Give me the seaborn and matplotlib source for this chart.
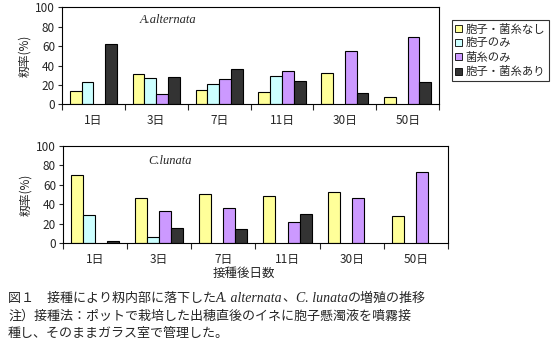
import numpy as np
import pandas as pd
import matplotlib
matplotlib.use("Agg")
import matplotlib.pyplot as plt
from matplotlib.patches import Patch
from matplotlib.ticker import FixedLocator
import seaborn as sns

sns.set_style("white")
plt.rcParams["font.family"] = ["Noto Sans CJK JP", "DejaVu Sans"]

nan = np.nan
days = ["1日", "3日", "7日", "11日", "30日", "50日"]
series = ["胞子・菌糸なし", "胞子のみ", "菌糸のみ", "胞子・菌糸あり"]
colors = ["#FFFF99", "#CCFFFF", "#CC99FF", "#333333"]

# A. alternata
alt_none = [14, 31, 15, 13, 32, 8]
alt_spore = [23, 27, 21, 29, nan, nan]
alt_hypha = [nan, 11, 26, 34, 55, 69]
alt_both = [62, 28, 36, 24, 12, 23]

# C. lunata
lun_none = [70, 46, 50, 48, 53, 28]
lun_spore = [29, 6, nan, nan, nan, nan]
lun_hypha = [nan, 33, 36, 22, 46, 73]
lun_both = [2, 16, 15, 30, nan, nan]

yticks = [0, 20, 40, 60, 80, 100]
ylabel = "籾率(%)"
xlabel = "接種後日数"


def long_table(cols):
    rows = []
    for name, vals in zip(series, cols):
        for d, v in zip(days, vals):
            if not np.isnan(v):
                rows.append({"day": d, "status": name, "rate": v})
    return pd.DataFrame(rows)


fig = plt.figure(figsize=(5.57, 3.42), dpi=100)
ax1 = fig.add_axes([0.1113, 0.695, 0.677, 0.2836])
ax2 = fig.add_axes([0.1131, 0.2886, 0.691, 0.2854])

panels = [
    (ax1, [alt_none, alt_spore, alt_hypha, alt_both], "A.alternata", (0.28, 0.87)),
    (ax2, [lun_none, lun_spore, lun_hypha, lun_both], "C.lunata", (0.278, 0.843)),
]

for ax, cols, name, pos in panels:
    df = long_table(cols)
    sns.barplot(data=df, x="day", y="rate", hue="status", order=days,
                hue_order=series, palette=colors, width=0.75,
                edgecolor="black", linewidth=0.8, errorbar=None,
                legend=False, saturation=1, ax=ax)
    ax.set_xlim(-0.5, len(days) - 0.5)
    ax.set_ylim(0, 100)
    ax.set_yticks(yticks)
    ax.tick_params(axis="y", labelsize=8.5, length=3, width=0.8,
                   direction="out", left=True, pad=2)
    ax.tick_params(axis="x", which="major", length=0, labelsize=8.5, pad=7)
    ax.xaxis.set_minor_locator(FixedLocator(np.arange(-0.5, len(days), 1.0)))
    ax.tick_params(axis="x", which="minor", length=4, width=0.8,
                   direction="out", bottom=True)
    for s in ax.spines.values():
        s.set_visible(True)
        s.set_color("black")
        s.set_linewidth(0.8)
    ax.set_xlabel("")
    ax.set_ylabel(ylabel, fontsize=8.5, labelpad=3)
    ax.text(pos[0], pos[1], name, transform=ax.transAxes, ha="center",
            va="center", fontsize=9, style="italic",
            family="Liberation Serif")

ax2.text(0.47, -0.305, xlabel, transform=ax2.transAxes, ha="center",
         va="center", fontsize=9)

handles = [Patch(facecolor=c, edgecolor="black", linewidth=0.6) for c in colors]
leg = fig.legend(handles, series, loc="upper left",
                 bbox_to_anchor=(452 / 557, 1 - 20 / 342), fontsize=8.2,
                 frameon=True, fancybox=False, edgecolor="black",
                 handlelength=0.6, handleheight=0.6, handletextpad=0.3,
                 borderpad=0.3, labelspacing=0.3, borderaxespad=0)
leg.get_frame().set_linewidth(0.8)

# Caption lines, mixing CJK text with italic species names
cap_size = 9.4
lines = [
    (1 - 298 / 342, [("図１　接種により籾内部に落下した", None),
                     ("A. alternata", "it"), ("、", None),
                     ("C. lunata", "it"), ("の増殖の推移", None)]),
    (1 - 316 / 342, [("注）接種法：ポットで栽培した出穂直後のイネに胞子懸濁液を噴霧接", None)]),
    (1 - 333 / 342, [("種し、そのままガラス室で管理した。", None)]),
]

fig.canvas.draw()
renderer = fig.canvas.get_renderer()
for y, pieces in lines:
    x = 8 / 557
    for txt, kind in pieces:
        if kind == "it":
            t = fig.text(x, y, txt, fontsize=cap_size + 0.6, style="italic",
                         family="Liberation Serif", va="center", ha="left")
        else:
            t = fig.text(x, y, txt, fontsize=cap_size, va="center", ha="left")
        bb = t.get_window_extent(renderer)
        x += bb.width / fig.bbox.width

fig.savefig("out.png", dpi=100, facecolor="white")
